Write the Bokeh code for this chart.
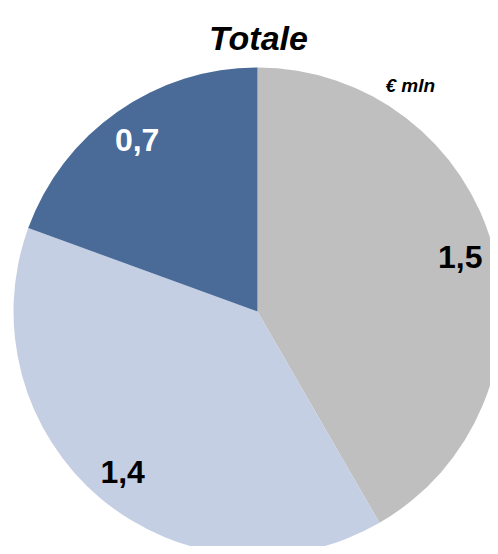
import numpy as np
from bokeh.plotting import figure
from bokeh.models import Range1d, ColumnDataSource
from bokeh.core.properties import value
from bokeh.embed import file_html
from bokeh.resources import INLINE

# Data
labels = ["1,5", "1,4", "0,7"]
values = [1.5, 1.4, 0.7]
colors = ["#BFBFBF", "#C5CFE3", "#4A6A98"]
label_colors = ["black", "black", "white"]
title = "Totale"
unit = "€ mln"

W, H = 490, 546
# coordinates: x = picture x, y = 554 - picture y
p = figure(width=W, height=H, output_backend="svg", toolbar_location=None,
           x_range=Range1d(0, 490), y_range=Range1d(8, 554),
           x_axis_location=None, y_axis_location=None,
           min_border=0, min_border_left=0, min_border_right=0,
           min_border_top=0, min_border_bottom=0)
p.grid.visible = False
p.outline_line_color = None
p.background_fill_color = "white"
p.border_fill_color = "white"

cx, cy, r = 257, 554 - 311, 244
vals = np.array(values)
frac = vals / vals.sum()
cum = np.concatenate([[0], np.cumsum(frac)])
start = np.pi / 2 - cum[:-1] * 2 * np.pi
end = np.pi / 2 - cum[1:] * 2 * np.pi
mid = (start + end) / 2
lr = 0.86 * r
src = ColumnDataSource(dict(start=start, end=end, color=colors,
                            lx=cx + lr * np.cos(mid), ly=cy + lr * np.sin(mid),
                            text=labels, tcolor=label_colors))
p.wedge(x=cx, y=cy, radius=r, start_angle="start", end_angle="end",
        direction="clock", fill_color="color", line_color=None, source=src)
p.text(x="lx", y="ly", text="text", text_color="tcolor", source=src,
       text_font=value("Liberation Sans"), text_font_style="bold",
       text_font_size="32px", text_align="center", text_baseline="middle")

p.text(x=[258], y=[554 - 37], text=[title], text_font=value("Liberation Sans"),
       text_font_style="bold italic", text_font_size="34px",
       text_align="center", text_baseline="alphabetic", text_color="black")
p.text(x=[385], y=[554 - 85], text=[unit], text_font=value("Liberation Sans"),
       text_font_style="bold italic", text_font_size="19px",
       text_align="left", text_baseline="alphabetic", text_color="black")

open("out.html", "w").write(file_html(p, INLINE))
